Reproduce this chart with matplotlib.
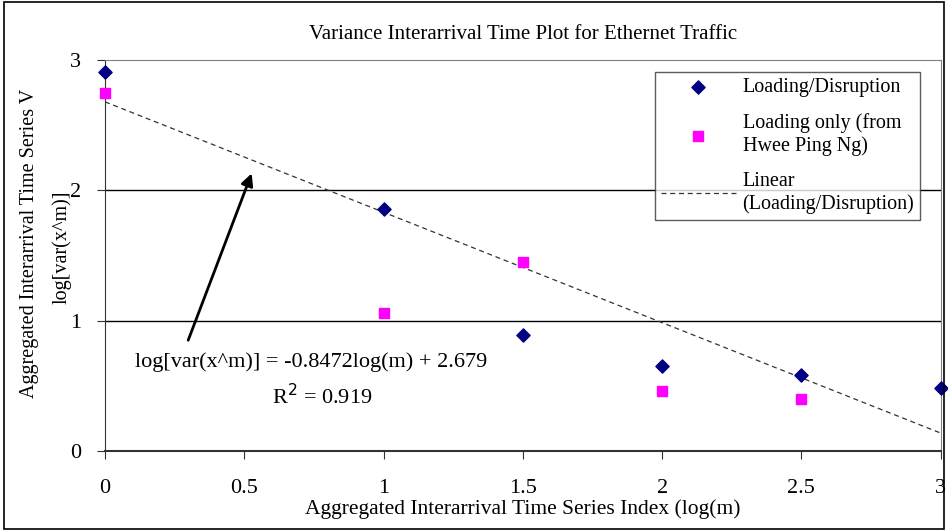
import matplotlib
matplotlib.use("Agg")
import matplotlib.pyplot as plt
import numpy as np
from matplotlib.patches import Rectangle

plt.rcParams['font.family'] = ['Liberation Serif', 'DejaVu Serif']

# data
x_dis = [0, 1, 1.5, 2, 2.5, 3]
y_dis = [2.91, 1.86, 0.89, 0.65, 0.58, 0.48]
x_load = [0, 1, 1.5, 2, 2.5]
y_load = [2.75, 1.06, 1.45, 0.46, 0.40]
slope = -0.8472
intercept = 2.679
r2 = 0.919
xticks = [0, 0.5, 1, 1.5, 2, 2.5, 3]
yticks = [0, 1, 2, 3]

fig = plt.figure(figsize=(9.48, 5.31), dpi=100)
fig.patches.append(Rectangle((0.004, 0.004), 0.992, 0.992, transform=fig.transFigure,
                             fill=False, edgecolor='black', linewidth=1.2))
ax = fig.add_axes([0.1108, 0.1507, 0.8815, 0.7363])

ax.set_xlim(0, 3)
ax.set_ylim(0, 3)
ax.set_xticks(xticks)
ax.set_xticklabels(['0', '0.5', '1', '1.5', '2', '2.5', '3'])
ax.set_yticks(yticks)

for yv in [1, 2]:
    ax.axhline(yv, color='black', linewidth=1.0, zorder=1)

xl = np.array([0, 3])
ax.plot(xl, slope * xl + intercept, linestyle=(0, (4, 3)), color='#333333',
        linewidth=0.9, label='Linear\n(Loading/Disruption)', zorder=2)
ax.scatter(x_dis, y_dis, marker='D', s=45, color='#000080',
           label='Loading/Disruption', zorder=4, clip_on=False)
ax.scatter(x_load, y_load, marker='s', s=55, color='#ff00ff',
           label='Loading only (from\nHwee Ping Ng)', zorder=3, clip_on=False)

for side in ['top', 'right']:
    ax.spines[side].set_color('#808080')
ax.spines['left'].set_color('#333333')
ax.spines['bottom'].set_color('#333333')
ax.spines['bottom'].set_linewidth(1.5)
ax.tick_params(axis='x', direction='out', length=6, pad=14, labelsize=16, color='#333333')
ax.tick_params(axis='y', direction='out', length=6, pad=11, labelsize=16, color='#333333')

ax.set_title('Variance Interarrival Time Plot for Ethernet Traffic', fontsize=15, pad=15)
ax.set_xlabel('Aggregated Interarrival Time Series Index (log(m)', fontsize=15.5, labelpad=1)
fig.text(30 / 948, 1 - 243 / 531, 'Aggregated Interarrival Time Series V', fontsize=14.5,
         rotation=90, ha='center', va='center')
fig.text(62 / 948, 1 - 247 / 531, 'log[var(x^m)]', fontsize=14.5,
         rotation=90, ha='center', va='center')

ax.text(0.74, 0.68, 'log[var(x^m)] = -0.8472log(m) + 2.679', fontsize=16,
        ha='center', va='center')
ax.text(0.78, 0.42, 'R$^2$ = %.3f' % r2, fontsize=16, ha='center', va='center')
ax.annotate('', xy=(0.53, 2.15), xytext=(0.295, 0.83),
            arrowprops=dict(arrowstyle='-|>', color='black', lw=2, mutation_scale=18))

handles, labels = ax.get_legend_handles_labels()
order = [1, 2, 0]
leg = ax.legend([handles[i] for i in order], [labels[i] for i in order],
                loc='upper left', fontsize=14.5, frameon=True, fancybox=False,
                edgecolor='#333333', handlelength=3.7, labelspacing=0.8,
                borderpad=0.3, handletextpad=0.35, borderaxespad=0)
leg.get_frame().set_linewidth(1.0)
leg.set_bbox_to_anchor((655 / 948, 1 - 72 / 531), transform=fig.transFigure)

fig.savefig('out.png', dpi=100)
